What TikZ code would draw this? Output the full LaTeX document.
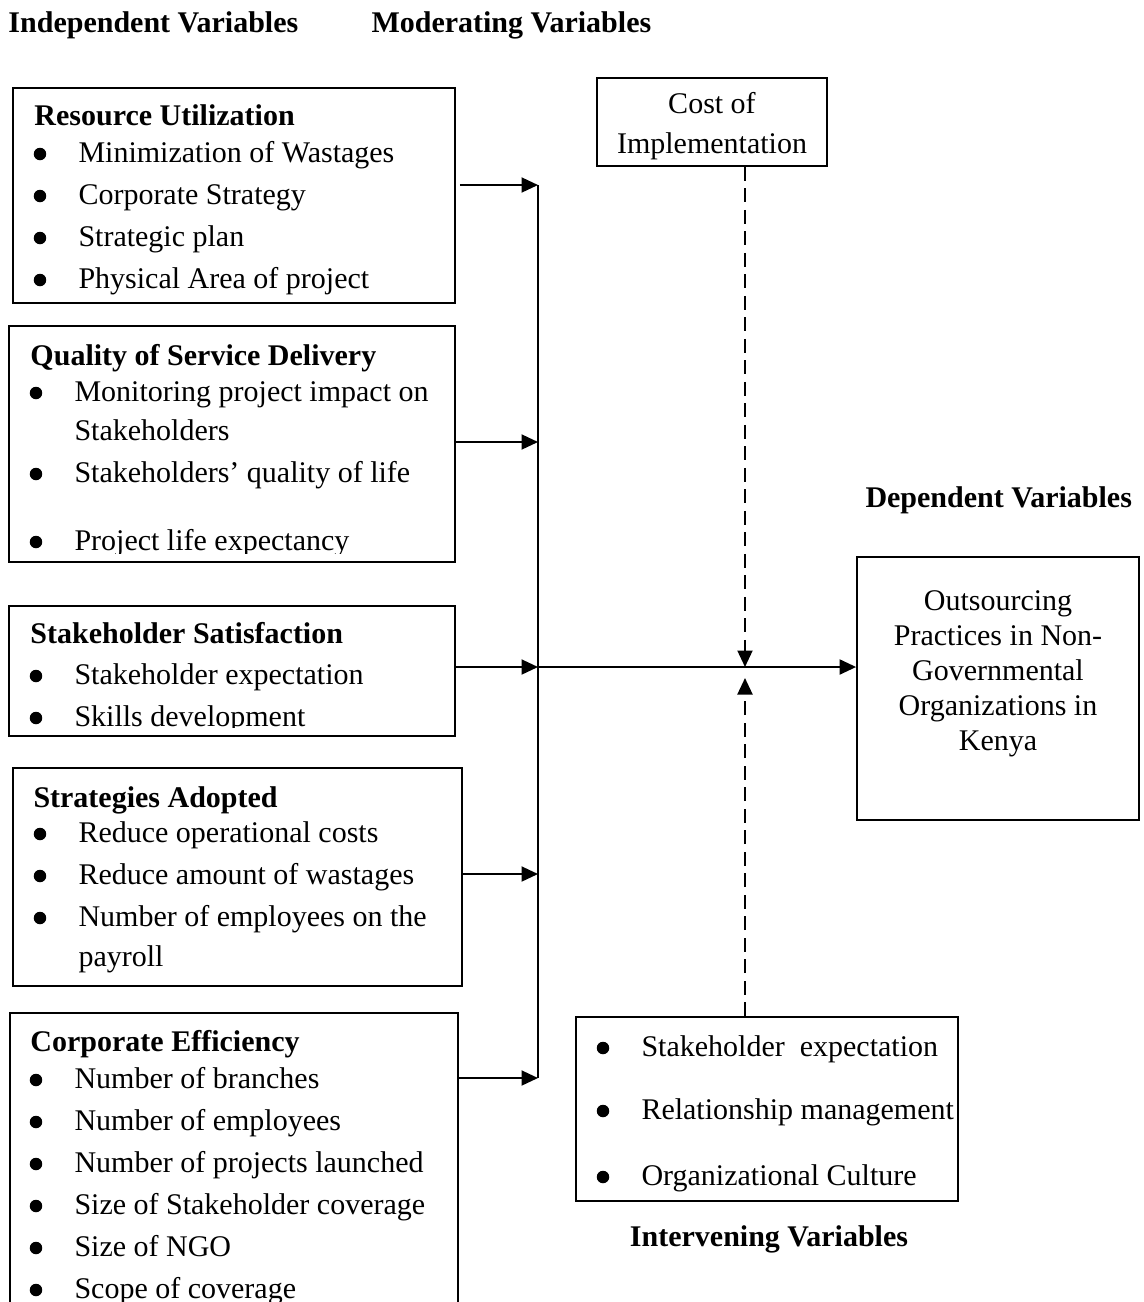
\documentclass[tikz,border=0pt]{standalone}
\usepackage{fontspec}
\setmainfont{Liberation Serif}
\usetikzlibrary{arrows.meta,positioning,fit}
\tikzset{
vbox/.style={rectangle,draw,line width=0.7pt,inner sep=0pt},
vhead/.style={font=\fontsize{12}{14}\selectfont\bfseries,anchor=base west,inner sep=0pt},
vitem/.style={anchor=base west,inner sep=0pt},
vtext/.style={align=center,inner sep=0pt},
varr/.style={-{Triangle[length=6.6pt,width=6pt]},line width=0.8pt},
vdash/.style={varr,dash pattern=on 5.6pt off 3pt},
vbus/.style={line width=0.8pt}
}
\begin{document}
\begin{tikzpicture}[
x=0.4pt,
y=-0.4pt,
every node/.style={font=\fontsize{12}{14}\selectfont}
]
\useasboundingbox (0,0) rectangle (1144,1302);
\clip (0,0) rectangle (1144,1302);
% headings
\node[vhead] (indep) at (8,32) {Independent Variables};
\node[vhead] (moder) at (371,32) {Moderating Variables};
\node[vhead] (depv) at (865,507) {Dependent Variables};
\node[vhead,anchor=base] (intv) at (769,1246) {Intervening Variables};
% boxes
\node[vbox,fit={(13,88) (455,303)}] (res) {};
\node[vbox,fit={(9,326) (455,562)}] (qual) {};
\node[vbox,fit={(9,606) (455,736)}] (sat) {};
\node[vbox,fit={(13,768) (462,986)}] (strat) {};
\node[vbox,fit={(10,1013) (458,1330)}] (eff) {};
\node[vbox,fit={(597,78) (827,166)}] (cost) {};
\node[vbox,fit={(857,557) (1139,820)}] (dep) {};
\node[vbox,fit={(576,1017) (958,1201)}] (interv) {};
% resource utilization
\node[vhead] (resh) at (34,125) {Resource Utilization};
\node[vitem] (res1) at (78,162) {Minimization of Wastages};
\node[vitem] (res2) at (78,204) {Corporate Strategy};
\node[vitem] (res3) at (78,246) {Strategic plan};
\node[vitem] (res4) at (78,288) {Physical Area of project};
% quality of service delivery
\begin{scope}
\clip (qual.north west) rectangle ([yshift=3.6pt]qual.south east);
\node[vhead] (qualh) at (30,365) {Quality of Service Delivery};
\node[vitem] (qual1) at (74,401) {Monitoring project impact on};
\node[vitem] (qual1b) at (74,440) {Stakeholders};
\node[vitem] (qual2) at (74,482) {Stakeholders' quality of life};
\node[vitem] (qual3) at (74,550) {Project life expectancy};
\fill ([xshift=-15.2pt,yshift=3.2pt]qual3.base west) circle (2.5pt);
\end{scope}
% stakeholder satisfaction
\begin{scope}
\clip (sat.north west) rectangle ([yshift=3.6pt]sat.south east);
\node[vhead] (sath) at (30,643) {Stakeholder Satisfaction};
\node[vitem] (sat1) at (74,684) {Stakeholder expectation};
\node[vitem] (sat2) at (74,726) {Skills development};
\end{scope}
% strategies adopted
\node[vhead] (strath) at (33,807) {Strategies Adopted};
\node[vitem] (strat1) at (78,842) {Reduce operational costs};
\node[vitem] (strat2) at (78,884) {Reduce amount of wastages};
\node[vitem] (strat3) at (78,926) {Number of employees on the};
\node[vitem] (strat3b) at (78,966) {payroll};
% corporate efficiency
\node[vhead] (effh) at (30,1051) {Corporate Efficiency};
\node[vitem] (eff1) at (74,1088) {Number of branches};
\node[vitem] (eff2) at (74,1130) {Number of employees};
\node[vitem] (eff3) at (74,1172) {Number of projects launched};
\node[vitem] (eff4) at (74,1214) {Size of Stakeholder coverage};
\node[vitem] (eff5) at (74,1256) {Size of NGO};
\node[vitem] (eff6) at (74,1298) {Scope of coverage};
% moderating, dependent and intervening texts
\node[vtext,font=\fontsize{12}{16}\selectfont] (costtxt) at (712,126)
  {Cost of\\Implementation};
\node[vtext,font=\fontsize{12}{14}\selectfont] (deptxt) at (998,674)
  {Outsourcing\\Practices in Non-\\Governmental\\Organizations in\\Kenya};
\node[vitem] (int1) at (641,1056) {Stakeholder~ expectation};
\node[vitem] (int2) at (641,1119) {Relationship management};
\node[vitem] (int3) at (641,1185) {Organizational Culture};
% bullets
\foreach \it in {res1,res2,res3,res4,qual1,qual2,sat1,sat2,strat1,strat2,strat3,
  eff1,eff2,eff3,eff4,eff5,eff6,int1,int2,int3}
  \fill ([xshift=-15.2pt,yshift=3.2pt]\it.base west) circle (2.5pt);
% connectors
\coordinate (bus1) at (538,185);
\coordinate (bus2) at (538,442);
\coordinate (bus3) at (538,667);
\coordinate (bus4) at (538,874);
\coordinate (bus5) at (538,1078);
\coordinate (meet) at (745,667);
\draw[vbus] (bus1)--(bus5);
\draw[varr] ([xshift=1.6pt]res.east |- bus1)--(bus1);
\draw[varr] (qual.east |- bus2)--(bus2);
\draw[varr] (sat.east |- bus3)--(bus3);
\draw[varr] (strat.east |- bus4)--(bus4);
\draw[varr] (eff.east |- bus5)--(bus5);
\draw[varr] (bus3)--(dep.west |- bus3);
\draw[vdash] (cost.south -| meet)--(meet);
\draw[vdash] (interv.north -| meet)--([yshift=-4.4pt]meet);
\end{tikzpicture}
\end{document}
